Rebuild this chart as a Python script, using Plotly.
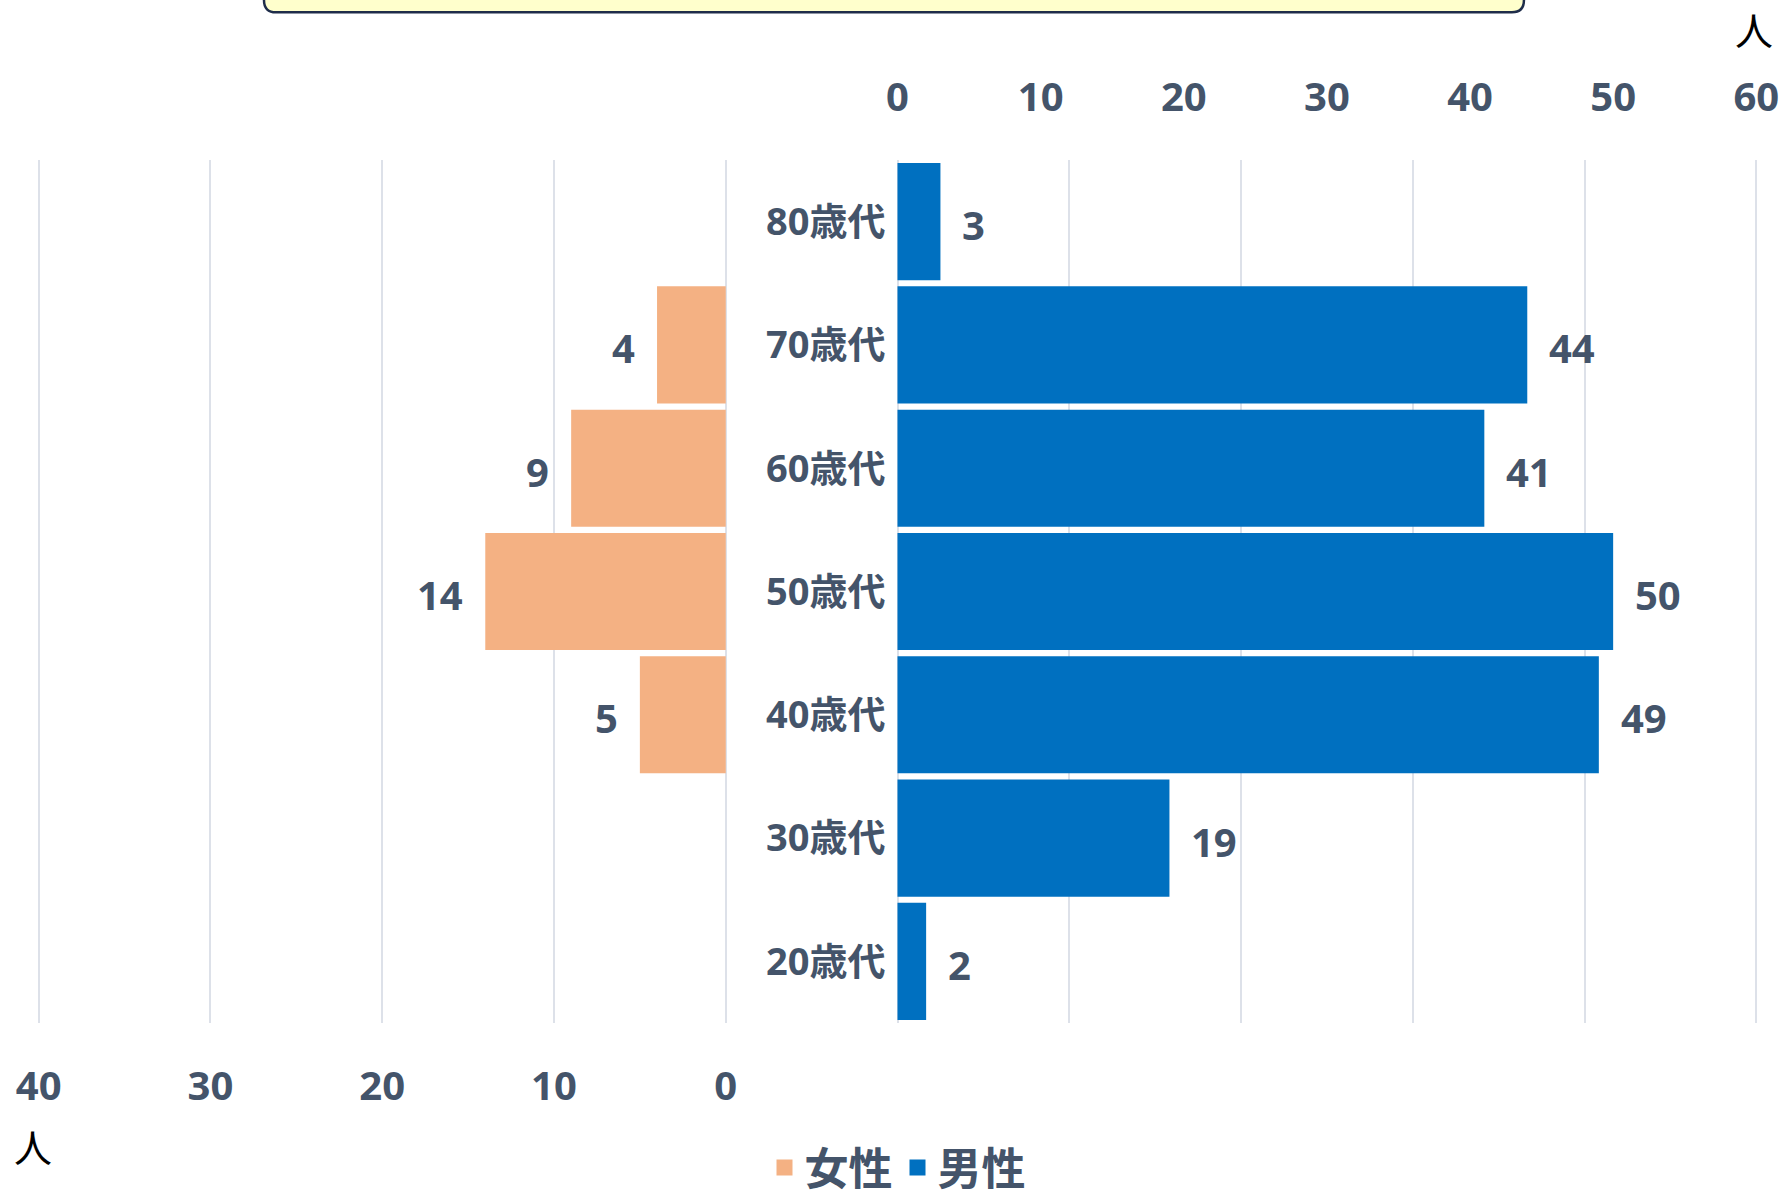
import plotly.graph_objects as go

categories = ["20歳代", "30歳代", "40歳代", "50歳代", "60歳代", "70歳代", "80歳代"]
female = [0, 0, 5, 14, 9, 4, 0]
male = [2, 19, 49, 50, 41, 44, 3]
female_tickvals = [40, 30, 20, 10, 0, -10, -20, -30, -40, -50, -60]
female_ticktext = ["40", "30", "20", "10", "0", "", "", "", "", "", ""]
male_tickvals = [0, 10, 20, 30, 40, 50, 60]
male_ticktext = ["0", "10", "20", "30", "40", "50", "60"]

TXT = "#44546A"
C_F = "#F4B183"
C_M = "#0070C0"
GRID = "#DDE1E9"
LAT = "'Open Sans', 'Noto Sans CJK JP', sans-serif"
CJK = "'Noto Sans CJK JP', sans-serif"

fig = go.Figure()
fig.add_trace(go.Bar(y=categories, x=female, orientation="h", xaxis="x", yaxis="y",
                     marker=dict(color=C_F, line=dict(width=0)), showlegend=False, name="女性"))
fig.add_trace(go.Bar(y=categories, x=male, orientation="h", xaxis="x2", yaxis="y",
                     marker=dict(color=C_M, line=dict(width=0)), showlegend=False, name="男性"))
# legend entries
fig.add_trace(go.Scatter(x=[None], y=[None], mode="markers", name="女性",
                         marker=dict(symbol="square", size=27, color=C_F)))
fig.add_trace(go.Scatter(x=[None], y=[None], mode="markers", name="男性",
                         marker=dict(symbol="square", size=27, color=C_M)))

annotations = []
for c, v in zip(categories, female):
    if v:
        annotations.append(dict(x=v, y=c, xref="x", yref="y", text=str(v), showarrow=False,
                                xanchor="right", xshift=-20, yshift=-3,
                                font=dict(family=LAT, size=40, color=TXT, weight="bold")))
for c, v in zip(categories, male):
    if v:
        annotations.append(dict(x=v, y=c, xref="x2", yref="y", text=str(v), showarrow=False,
                                xanchor="left", xshift=20, yshift=-3,
                                font=dict(family=LAT, size=40, color=TXT, weight="bold")))
annotations.append(dict(x=0.9977, y=1.152, xref="paper", yref="paper", text="人", showarrow=False,
                        xanchor="center", yanchor="middle",
                        font=dict(family=CJK, size=38, color="#000000")))
annotations.append(dict(x=-0.0023, y=-0.142, xref="paper", yref="paper", text="人", showarrow=False,
                        xanchor="center", yanchor="middle",
                        font=dict(family=CJK, size=38, color="#000000")))

# title box (cut off at top)
x0, x1, yb, yt = 0.1319, 0.864, 1.1711, 1.30
rx, ry = 0.007, 0.0139
box_path = (f"M{x0},{yt} L{x0},{yb+ry} Q{x0},{yb} {x0+rx},{yb} "
            f"L{x1-rx},{yb} Q{x1},{yb} {x1},{yb+ry} L{x1},{yt} Z")

E = 0.1  # small padding so edge grid lines are drawn
fig.update_layout(
    width=1787, height=1197, autosize=False,
    margin=dict(l=37, r=29, t=160, b=174, autoexpand=False),
    paper_bgcolor="white", plot_bgcolor="white",
    barmode="overlay", bargap=0.05,
    xaxis=dict(range=[40 + E, -60 - E], tickmode="array", tickvals=female_tickvals,
               ticktext=female_ticktext,
               showgrid=True, gridcolor=GRID, gridwidth=2, zeroline=False, showline=False,
               side="bottom", ticks="", ticklabelstandoff=36, automargin=False,
               tickfont=dict(family=LAT, size=40, color=TXT, weight="bold"), fixedrange=True),
    xaxis2=dict(range=[-60 - 1.2 * E, 60 + 1.2 * E], overlaying="x", side="top", tickmode="array",
                tickvals=male_tickvals, ticktext=male_ticktext, showgrid=False, zeroline=False,
                showline=False, ticks="", ticklabelstandoff=40, anchor="y", automargin=False,
                tickfont=dict(family=LAT, size=40, color=TXT, weight="bold")),
    yaxis=dict(type="category", categoryorder="array", categoryarray=categories,
               range=[-0.5, 6.5], anchor="free", position=0.5, showgrid=False, zeroline=False,
               showline=False, ticks="", ticklabelstandoff=12, automargin=False,
               tickfont=dict(family=LAT, size=38, color=TXT, weight="bold")),
    legend=dict(orientation="h", x=0.5, xanchor="center", y=-0.168, yanchor="middle",
                font=dict(family=CJK, size=44, color=TXT, weight="bold"),
                bgcolor="rgba(0,0,0,0)", itemclick=False),
    annotations=annotations,
    shapes=[dict(type="path", path=box_path, xref="paper", yref="paper",
                 fillcolor="#FFFFCC", line=dict(color="#1F2D4A", width=2.5), layer="above")],
    showlegend=True,
)

fig.write_html("out.html", post_script="document.body.style.margin='0';",
               config={"displayModeBar": False})
